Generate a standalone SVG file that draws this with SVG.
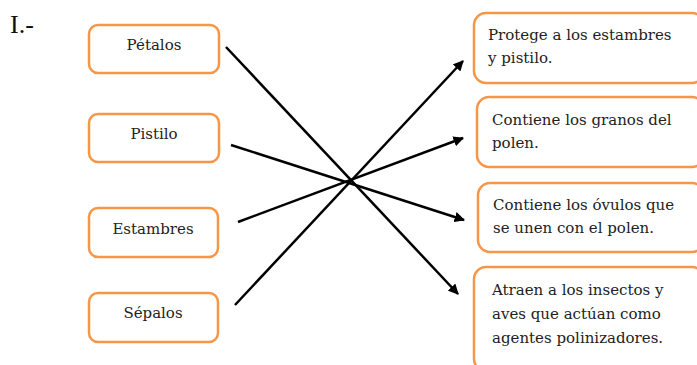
<svg xmlns="http://www.w3.org/2000/svg" width="697" height="365" viewBox="0 0 697 365">
<defs>
<style>
.box{fill:#fff;stroke:#F79646;stroke-width:2.5}
.t{font-family:"DejaVu Serif","Liberation Serif",serif;font-size:15px;fill:#222}
.c{text-anchor:middle}
.ln{stroke:#000;stroke-width:2.5;fill:none;marker-end:url(#ah)}
</style>
<marker id="ah" viewBox="0 0 10 10" refX="9" refY="5" markerWidth="4.2" markerHeight="4.2" markerUnits="strokeWidth" orient="auto">
<path d="M0,0 L10,5 L0,10 z" fill="#000"/>
</marker>
</defs>
<rect width="697" height="365" fill="#fff"/>
<text x="10" y="33" style="font-family:'Liberation Serif',serif;font-size:26px;fill:#111">I.-</text>
<g id="n-petalos"><rect class="box" x="89" y="25" width="130" height="48" rx="9"/><text class="t c" x="154" y="50">Pétalos</text></g>
<g id="n-pistilo"><rect class="box" x="89" y="114" width="130" height="48" rx="9"/><text class="t c" x="154" y="139">Pistilo</text></g>
<g id="n-estambres"><rect class="box" x="89" y="208" width="129" height="49" rx="9"/><text class="t c" x="153" y="234">Estambres</text></g>
<g id="n-sepalos"><rect class="box" x="89" y="293" width="129" height="49" rx="9"/><text class="t c" x="153" y="318">Sépalos</text></g>
<g id="n-protege"><rect class="box" x="474" y="13" width="230" height="70" rx="12"/><text class="t" x="488" y="40">Protege a los estambres</text><text class="t" x="488" y="63">y pistilo.</text></g>
<g id="n-granos"><rect class="box" x="477" y="97" width="227" height="70" rx="12"/><text class="t" x="492" y="125">Contiene los granos del</text><text class="t" x="492" y="148">polen.</text></g>
<g id="n-ovulos"><rect class="box" x="478" y="183" width="226" height="69" rx="12"/><text class="t" x="493" y="210">Contiene los óvulos que</text><text class="t" x="493" y="233">se unen con el polen.</text></g>
<g id="n-atraen"><rect class="box" x="474" y="267" width="230" height="104" rx="12"/><text class="t" x="492" y="295">Atraen a los insectos y</text><text class="t" x="492" y="319">aves que actúan como</text><text class="t" x="492" y="343">agentes polinizadores.</text></g>
<g id="connectors">
<line class="ln" x1="226" y1="47" x2="458" y2="294"/>
<line class="ln" x1="231" y1="145" x2="464" y2="220"/>
<line class="ln" x1="238" y1="222" x2="463" y2="138"/>
<line class="ln" x1="235" y1="305" x2="463" y2="61"/>
</g>
</svg>
